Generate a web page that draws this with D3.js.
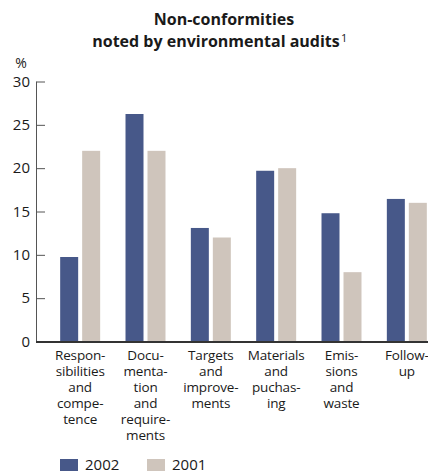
<!DOCTYPE html>
<html><head><meta charset="utf-8">
<script src="https://cdn.jsdelivr.net/npm/d3@7"></script>
<style>body{margin:0;background:#fff}svg{display:block}text{font-family:"Open Sans",sans-serif;fill:#1a1a1a}</style>
</head><body>
<svg id="c" width="428" height="475"></svg>
<script>
const categories = [
  ["Respon-","sibilities","and","compe-","tence"],
  ["Docu-","menta-","tion","and","require-","ments"],
  ["Targets","and","improve-","ments"],
  ["Materials","and","puchas-","ing"],
  ["Emis-","sions","and","waste"],
  ["Follow-","up"]
];
const series = ["2002","2001"];
const values2002 = [9.75, 26.25, 13.1, 19.7, 14.8, 16.45];
const values2001 = [22, 22, 12, 20, 8, 16];
const yTicks = [0,5,10,15,20,25,30];
const colors = ["#475889","#cfc5bc"];

const svg = d3.select("#c");
const y = d3.scaleLinear().domain([0,30]).range([341.5,81.5]);
const x0 = d3.scaleBand().domain(d3.range(categories.length)).range([47.5,439.5]).paddingInner(0.388).paddingOuter(0.194);
const x1 = d3.scaleBand().domain(series).range([0,x0.bandwidth()]).paddingInner(0.1818);
const vals = [values2002, values2001];

// title
const t = svg.append("text").attr("text-anchor","middle").style("font-weight","700").style("font-size","16px");
t.append("tspan").attr("x",224).attr("y",25).text("Non-conformities");
t.append("tspan").attr("x",216).attr("y",47).text("noted by environmental audits");
svg.append("text").attr("x",341).attr("y",42).style("font-size","11px").text("1");

// bars
const g = svg.append("g");
categories.forEach((c,i)=>{
  series.forEach((s,j)=>{
    g.append("rect").attr("x",x0(i)+x1(s)).attr("width",x1.bandwidth())
      .attr("y",y(vals[j][i])).attr("height",y(0)-y(vals[j][i])).attr("fill",colors[j]);
  });
});

// y axis
const ya = svg.append("g").attr("transform","translate(36,0)")
  .call(d3.axisLeft(y).tickValues(yTicks).tickSize(-9).tickPadding(6));
ya.select(".domain").attr("stroke","#555").attr("d","M0.5,"+y(30)+"V"+y(0));
ya.selectAll(".tick line").attr("stroke","#555").attr("x1",0.5);
ya.selectAll(".tick text").style("font-size","15px").attr("fill","#1a1a1a").style("font-family","'Open Sans',sans-serif");
svg.append("text").attr("x",21).attr("y",68).attr("text-anchor","middle").style("font-size","14px").text("%");

// x baseline
svg.append("line").attr("x1",36).attr("x2",428).attr("y1",y(0)+0.5).attr("y2",y(0)+0.5).attr("stroke","#333").attr("stroke-width",2);

// category labels
categories.forEach((c,i)=>{
  const tx = svg.append("text").attr("text-anchor","middle").style("font-size","13.5px").style("letter-spacing","-0.15px");
  c.forEach((line,k)=>{
    tx.append("tspan").attr("x",x0(i)+x0.bandwidth()/2).attr("y",360+k*16).text(line);
  });
});

// legend
const lx = [60,147];
series.forEach((s,j)=>{
  svg.append("rect").attr("x",lx[j]).attr("y",459).attr("width",18).attr("height",12).attr("fill",colors[j]);
  svg.append("text").attr("x",lx[j]+25).attr("y",470).style("font-size","15px").text(s);
});
</script>
</body></html>
